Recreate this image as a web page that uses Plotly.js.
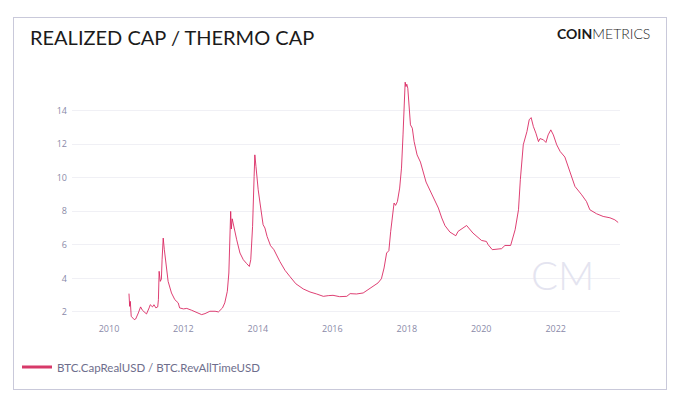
<!DOCTYPE html>
<html>
<head>
<meta charset="utf-8">
<script src="https://cdn.plot.ly/plotly-3.0.1.min.js"></script>
<style>
  html, body { margin: 0; padding: 0; background: #ffffff; }
  #wrap { position: relative; width: 680px; height: 402px; }
  #chart { position: absolute; left: 0; top: 0; width: 680px; height: 402px; }
  #frame { position: absolute; left: 13px; top: 17px; width: 652px; height: 371px;
           border: 1px solid #c9c9da; pointer-events: none; }
</style>
</head>
<body>
<div id="wrap">
  <div id="chart"></div>
  <div id="frame"></div>
</div>
<script>
// Data
const dates = [
  '2010-07-16','2010-07-23','2010-07-29','2010-08-07','2010-09-06','2010-09-20','2010-10-16','2010-11-07','2010-11-25',
  '2011-01-04','2011-01-30','2011-02-10','2011-03-04','2011-03-18','2011-04-06','2011-04-24','2011-05-01','2011-05-08',
  '2011-05-19','2011-05-30','2011-06-06','2011-06-17','2011-06-28','2011-07-16','2011-08-04','2011-09-06','2011-10-09',
  '2011-11-11','2011-11-25','2012-01-01','2012-02-03','2012-03-22','2012-05-12','2012-06-28','2012-07-31','2012-09-17',
  '2012-11-07','2012-12-10','2013-01-19','2013-02-10','2013-03-07','2013-03-22','2013-04-09','2013-04-15','2013-04-24',
  '2013-05-12','2013-06-07','2013-07-09','2013-08-11','2013-09-13','2013-10-09','2013-10-23','2013-11-10','2013-11-25',
  '2013-12-02','2013-12-13','2013-12-24','2014-01-04','2014-01-22','2014-02-02','2014-02-21','2014-03-11','2014-04-01',
  '2014-05-05','2014-06-07','2014-08-04','2014-09-24','2014-11-10','2015-01-08','2015-03-22','2015-05-27','2015-07-31',
  '2015-10-05','2015-11-22','2016-01-08','2016-03-13','2016-05-22','2016-06-24','2016-08-25','2016-10-30','2016-12-16',
  '2017-02-06','2017-03-25','2017-04-27','2017-05-23','2017-06-17','2017-07-09','2017-07-27','2017-08-15','2017-08-29',
  '2017-09-13','2017-10-01','2017-10-23','2017-11-10','2017-11-25','2017-12-05','2017-12-16','2017-12-24','2018-01-01',
  '2018-01-11','2018-01-26','2018-02-06','2018-02-24','2018-03-14','2018-04-12','2018-05-15','2018-07-09','2018-09-17',
  '2018-11-07','2018-12-10','2019-01-11','2019-02-28','2019-04-27','2019-05-19','2019-07-01','2019-08-11','2019-10-12',
  '2020-01-04','2020-02-21','2020-03-10','2020-04-19','2020-06-13','2020-07-19','2020-08-21','2020-10-16','2020-11-29',
  '2021-01-01','2021-01-19','2021-02-17','2021-03-25','2021-04-16','2021-05-05','2021-05-27','2021-06-21','2021-07-16',
  '2021-07-31','2021-09-02','2021-09-27','2021-10-19','2021-11-14','2021-12-09','2022-01-11','2022-02-14','2022-04-01',
  '2022-05-05','2022-06-07','2022-07-09','2022-09-13','2022-10-30','2022-12-02','2023-02-06','2023-04-12','2023-06-17',
  '2023-08-04','2023-09-06'
];
const ratio = [
  3.09,2.33,2.63,1.74,1.54,1.58,1.94,2.30,2.10,
  1.88,2.24,2.43,2.30,2.43,2.24,2.30,2.73,4.42,
  3.82,3.96,5.11,6.40,5.71,4.71,3.82,3.13,2.73,
  2.54,2.24,2.18,2.21,2.10,1.94,1.84,1.90,2.04,
  2.04,2.00,2.24,2.54,3.23,4.32,7.99,6.94,7.55,
  7.00,6.30,5.51,5.11,4.88,4.71,5.11,7.10,10.07,
  11.36,10.67,9.88,9.28,8.49,7.99,7.20,7.00,6.50,
  5.95,5.71,5.01,4.48,4.12,3.68,3.37,3.19,3.07,
  2.93,2.97,2.99,2.91,2.93,3.09,3.07,3.13,3.33,
  3.52,3.73,3.98,4.62,5.51,5.65,6.80,7.60,8.49,
  8.35,8.58,9.38,10.57,12.55,14.14,15.69,15.43,15.57,
  15.33,14.24,13.15,12.95,12.15,11.36,10.93,9.74,8.88,
  8.19,7.60,7.14,6.76,6.54,6.80,7.00,7.15,6.70,
  6.26,6.20,6.00,5.71,5.77,5.77,5.96,5.96,6.90,
  8.09,9.88,11.96,12.75,13.45,13.58,13.05,12.65,12.15,
  12.33,12.26,12.10,12.55,12.85,12.55,11.96,11.56,11.23,
  10.67,10.07,9.48,8.98,8.58,8.09,7.85,7.69,7.61,
  7.49,7.33
];
const seriesName = 'BTC.CapRealUSD / BTC.RevAllTimeUSD';
const chartTitle = 'REALIZED CAP / THERMO CAP';
const yTickVals = [2, 4, 6, 8, 10, 12, 14];
const yTickText = ['2', '4', '6', '8', '10', '12', '14'];

const trace = {
  x: dates,
  y: ratio,
  type: 'scatter',
  mode: 'lines',
  name: seriesName,
  line: { color: '#d81e5b', width: 1 },
  opacity: 0.85,
  showlegend: true
};

const tickFont = { family: 'Open Sans, DejaVu Sans, sans-serif', size: 9, color: '#8a8aa8' };

const layout = {
  width: 680,
  height: 402,
  margin: { l: 72, r: 60, t: 77, b: 80 },
  paper_bgcolor: '#ffffff',
  plot_bgcolor: '#ffffff',
  title: {
    text: chartTitle,
    font: { family: 'Lato, sans-serif', size: 20, color: '#1b1b1b' },
    xref: 'container', x: 30 / 680, xanchor: 'left',
    yref: 'container', y: 1 - 37.5 / 402, yanchor: 'middle'
  },
  xaxis: {
    type: 'date',
    range: ['2009-01-03', '2023-09-24'],
    tick0: '2010-01-01',
    dtick: 'M24',
    tickformat: '%Y',
    showgrid: false,
    zeroline: false,
    showline: false,
    ticks: '',
    tickfont: tickFont
  },
  yaxis: {
    range: [1.4, 16],
    tickvals: yTickVals,
    ticktext: yTickText,
    showgrid: true,
    gridcolor: '#f0f0f5',
    gridwidth: 1,
    zeroline: false,
    showline: false,
    ticks: '',
    ticklabelstandoff: 4,
    tickfont: tickFont
  },
  showlegend: true,
  legend: {
    orientation: 'h',
    xref: 'container', yref: 'container',
    x: 17 / 680, xanchor: 'left',
    y: 1 - 367 / 402, yanchor: 'middle',
    font: { family: 'Lato, sans-serif', size: 11.5, color: '#6e6e8c' },
    bgcolor: 'rgba(0,0,0,0)',
    itemwidth: 30
  },
  annotations: [
    {
      text: '<b>COIN</b><span style="font-weight:300">METRICS</span>',
      xref: 'paper', yref: 'paper',
      x: (652 - 72) / 548, xanchor: 'right',
      y: (322.4 - 33.5) / 245.4, yanchor: 'middle',
      showarrow: false,
      font: { family: 'Lato, sans-serif', size: 14, color: '#1a1a1a' }
    },
    {
      text: 'CM',
      xref: 'paper', yref: 'paper',
      x: (562 - 72) / 548, xanchor: 'center',
      y: (322.4 - 275) / 245.4, yanchor: 'middle',
      showarrow: false,
      font: { family: 'Lato, sans-serif', size: 40, color: '#e4e4f0', weight: 300 }
    }
  ]
};

Plotly.newPlot('chart', [trace], layout, { displayModeBar: false, staticPlot: true }).then(function () {
  document.querySelectorAll('#chart .legend .traces').forEach(function (g) {
    g.style.opacity = '1';
  });
  document.querySelectorAll('#chart .legend .legendlines path').forEach(function (p) {
    p.style.strokeWidth = '3px';
    p.style.stroke = '#d0164f';
    p.style.opacity = '1';
  });
});
</script>
</body>
</html>
